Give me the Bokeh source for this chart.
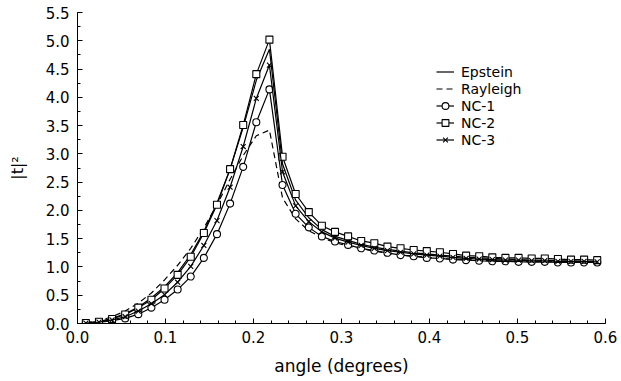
from bokeh.plotting import figure
from bokeh.models import FixedTicker, Legend, LegendItem, CustomJSTickFormatter
from bokeh.embed import file_html
from bokeh.resources import INLINE

angle = [0.0095, 0.0244, 0.0393, 0.0542, 0.0691, 0.0840, 0.0989, 0.1138, 0.1287, 0.1436,
         0.1585, 0.1734, 0.1883, 0.2032, 0.2181, 0.2330, 0.2479, 0.2628, 0.2777, 0.2926,
         0.3075, 0.3224, 0.3373, 0.3522, 0.3671, 0.3820, 0.3969, 0.4118, 0.4267, 0.4416,
         0.4565, 0.4714, 0.4863, 0.5012, 0.5161, 0.5310, 0.5459, 0.5608, 0.5757, 0.5906]

epstein = [0.01, 0.035, 0.09, 0.17, 0.29, 0.45, 0.65, 0.90, 1.22, 1.63,
           2.13, 2.73, 3.47, 4.30, 4.85, 2.82, 2.18, 1.87, 1.66, 1.54,
           1.47, 1.40, 1.35, 1.31, 1.28, 1.25, 1.23, 1.21, 1.19, 1.17,
           1.16, 1.15, 1.14, 1.13, 1.12, 1.12, 1.11, 1.11, 1.10, 1.10]

rayleigh = [0.015, 0.05, 0.12, 0.22, 0.36, 0.54, 0.77, 1.03, 1.33, 1.69,
            2.10, 2.55, 2.97, 3.32, 3.42, 2.22, 1.85, 1.64, 1.52, 1.43,
            1.37, 1.32, 1.28, 1.24, 1.21, 1.19, 1.17, 1.15, 1.14, 1.13,
            1.12, 1.11, 1.10, 1.10, 1.09, 1.09, 1.09, 1.08, 1.08, 1.08]

nc1 = [0.005, 0.02, 0.05, 0.09, 0.165, 0.28, 0.42, 0.60, 0.83, 1.16,
       1.58, 2.12, 2.77, 3.56, 4.14, 2.45, 1.94, 1.70, 1.54, 1.45,
       1.39, 1.33, 1.29, 1.25, 1.21, 1.19, 1.16, 1.15, 1.13, 1.12,
       1.11, 1.10, 1.10, 1.09, 1.09, 1.09, 1.08, 1.08, 1.08, 1.08]

nc2 = [0.01, 0.03, 0.08, 0.16, 0.28, 0.42, 0.62, 0.86, 1.18, 1.60,
       2.10, 2.73, 3.51, 4.41, 5.02, 2.95, 2.29, 1.97, 1.73, 1.62,
       1.54, 1.46, 1.42, 1.36, 1.33, 1.30, 1.28, 1.26, 1.23, 1.20,
       1.19, 1.17, 1.16, 1.16, 1.15, 1.15, 1.14, 1.13, 1.13, 1.12]

nc3 = [0.008, 0.025, 0.065, 0.12, 0.22, 0.35, 0.51, 0.73, 1.01, 1.38,
       1.82, 2.41, 3.13, 3.98, 4.57, 2.68, 2.08, 1.80, 1.62, 1.51,
       1.44, 1.38, 1.33, 1.29, 1.26, 1.23, 1.21, 1.19, 1.17, 1.15,
       1.14, 1.13, 1.12, 1.12, 1.11, 1.11, 1.10, 1.10, 1.10, 1.09]

x_ticks = [0.0, 0.1, 0.2, 0.3, 0.4, 0.5, 0.6]
y_ticks = [0.0, 0.5, 1.0, 1.5, 2.0, 2.5, 3.0, 3.5, 4.0, 4.5, 5.0, 5.5]

FONT = "DejaVu Sans"

p = figure(width=618, height=378, x_range=(0, 0.6), y_range=(0, 5.5),
           output_backend="svg", toolbar_location=None,
           min_border_left=77, min_border_right=13, min_border_top=12, min_border_bottom=50)
p.outline_line_color = None
p.xgrid.visible = False
p.ygrid.visible = False
p.background_fill_color = "white"

x_minor = [round(i * 0.02, 2) for i in range(31)]
y_minor = [round(i * 0.25, 2) for i in range(23)]
p.xaxis.ticker = FixedTicker(ticks=x_ticks, minor_ticks=x_minor)
p.yaxis.ticker = FixedTicker(ticks=y_ticks, minor_ticks=y_minor)
p.xaxis.formatter = CustomJSTickFormatter(code="return tick.toFixed(1);")
p.yaxis.formatter = CustomJSTickFormatter(code="return tick.toFixed(1);")

for ax in (p.xaxis[0], p.yaxis[0]):
    ax.major_tick_in = 5
    ax.major_tick_out = 0
    ax.minor_tick_in = 3
    ax.minor_tick_out = 0
    ax.axis_line_color = "black"
    ax.major_tick_line_color = "black"
    ax.minor_tick_line_color = "black"
    ax.major_label_text_font = FONT
    ax.major_label_text_font_size = "15px"
    ax.major_label_text_color = "black"
    ax.axis_label_text_font = FONT
    ax.axis_label_text_font_style = "normal"
    ax.axis_label_text_color = "black"

p.xaxis.axis_label = "angle (degrees)"
p.xaxis.axis_label_text_font_size = "17px"
p.xaxis.major_label_standoff = 7
p.xaxis.axis_label_standoff = 10
p.yaxis.axis_label = "|t|²"
p.yaxis.axis_label_text_font_size = "16px"
p.yaxis.major_label_standoff = 8
p.yaxis.axis_label_standoff = 16

lw = 1.2
r_ep = p.line(angle, epstein, line_color="black", line_width=lw)
r_ra = p.line(angle, rayleigh, line_color="black", line_width=lw, line_dash="6 4")
r_n1l = p.line(angle, nc1, line_color="black", line_width=lw)
r_n1m = p.scatter(angle, nc1, marker="circle", size=7, line_color="black", fill_color="white", line_width=1.1)
r_n2l = p.line(angle, nc2, line_color="black", line_width=lw)
r_n2m = p.scatter(angle, nc2, marker="square", size=7, line_color="black", fill_color="white", line_width=1.1)
r_n3l = p.line(angle, nc3, line_color="black", line_width=lw)
r_n3m = p.scatter(angle, nc3, marker="x", size=7, line_color="black", line_width=1.1)

legend = Legend(items=[
    LegendItem(label="Epstein", renderers=[r_ep]),
    LegendItem(label="Rayleigh", renderers=[r_ra]),
    LegendItem(label="NC-1", renderers=[r_n1l, r_n1m]),
    LegendItem(label="NC-2", renderers=[r_n2l, r_n2m]),
    LegendItem(label="NC-3", renderers=[r_n3l, r_n3m]),
], location=(359, 175))
legend.border_line_color = None
legend.background_fill_alpha = 0
legend.padding = 0
legend.margin = 0
legend.spacing = 0
legend.glyph_width = 18
legend.glyph_height = 17
legend.label_height = 17
legend.label_standoff = 7
legend.label_text_font = FONT
legend.label_text_font_size = "14px"
legend.label_text_color = "black"
p.add_layout(legend, "center")

open("out.html", "w").write(file_html(p, INLINE))
